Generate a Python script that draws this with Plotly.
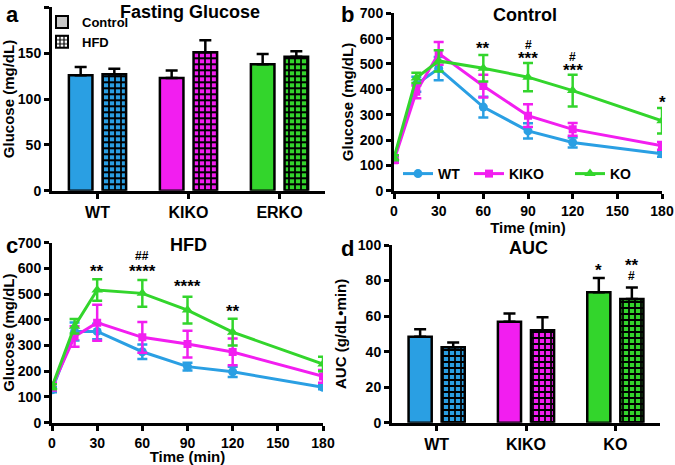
import plotly.graph_objects as go

# ---------------- data ----------------
groups_a = ["WT", "KIKO", "ERKO"]
fasting_control = [126, 123, 138]
fasting_control_err = [9, 8, 11]
fasting_hfd = [127, 151, 146]
fasting_hfd_err = [6, 13, 6]

time_min = [0, 15, 30, 60, 90, 120, 180]
ctrl_wt = [125, 420, 482, 330, 236, 190, 146]
ctrl_wt_err = [12, 30, 46, 41, 30, 20, 12]
ctrl_kiko = [120, 390, 542, 413, 296, 242, 177]
ctrl_kiko_err = [10, 25, 45, 45, 45, 25, 15]
ctrl_ko = [130, 445, 512, 483, 448, 395, 276]
ctrl_ko_err = [10, 20, 42, 52, 56, 63, 50]

hfd_wt = [128, 355, 355, 276, 218, 198, 138]
hfd_wt_err = [10, 35, 30, 28, 15, 20, 8]
hfd_kiko = [140, 335, 389, 332, 306, 275, 180]
hfd_kiko_err = [15, 40, 70, 60, 52, 52, 25]
hfd_ko = [140, 375, 516, 503, 438, 352, 228]
hfd_ko_err = [10, 28, 42, 52, 52, 52, 28]

groups_d = ["WT", "KIKO", "KO"]
auc_control = [48.4, 56.8, 73.4]
auc_control_err = [4.2, 4.7, 8.0]
auc_hfd = [42.4, 52.0, 69.6]
auc_hfd_err = [2.8, 7.3, 6.5]

sig_b = [(60, "**", 562), (90, "#", 575), (90, "***", 521),
         (120, "#", 529), (120, "***", 475), (180, "*", 347)]
sig_c = [(30, "**", 589), (60, "##", 650), (60, "****", 587),
         (90, "****", 528), (120, "**", 433)]
sig_d = [(2, -1, "*", 85.5), (2, 1, "**", 88.5), (2, 1, "#", 82.6)]

# ---------------- style ----------------
BLUE = "#2a9fe3"
MAG = "#f21ef0"
GREEN = "#33d52c"
colors3 = [BLUE, MAG, GREEN]
FONT = "Liberation Sans, Arial, sans-serif"
W, H = 675, 465


def px(x):
    return x / W


def py(y):
    return 1 - y / H


fig = go.Figure()

bar_line = dict(color="black", width=2.5)


def bar_err(err):
    return dict(type="data", array=err, arrayminus=[0] * len(err), symmetric=False,
                color="black", thickness=2.5, width=6)


def hfd_pattern(col):
    return dict(shape="+", fgcolor="black", bgcolor=col, size=6, solidity=0.5,
                fillmode="replace", fgopacity=1)


def add_bar_panel(groups, ctrl, ctrl_err, hfd, hfd_err, xa, ya):
    for i, g in enumerate(groups):
        col = colors3[i]
        fig.add_trace(go.Bar(x=[g], y=[ctrl[i]], offsetgroup="c", name=g + " Control",
                             marker=dict(color=col, line=bar_line),
                             error_y=bar_err([ctrl_err[i]]), xaxis=xa, yaxis=ya,
                             showlegend=False))
        fig.add_trace(go.Bar(x=[g], y=[hfd[i]], offsetgroup="h", name=g + " HFD",
                             marker=dict(color=col, line=bar_line, pattern=hfd_pattern(col)),
                             error_y=bar_err([hfd_err[i]]), xaxis=xa, yaxis=ya,
                             showlegend=False))


# panel a
add_bar_panel(groups_a, fasting_control, fasting_control_err, fasting_hfd,
              fasting_hfd_err, "x", "y")
fig.add_trace(go.Bar(x=[None], y=[None], offsetgroup="c", name="Control",
                     marker=dict(color="#c8c8c8", line=dict(color="black", width=2)),
                     xaxis="x", yaxis="y", legend="legend"))
fig.add_trace(go.Bar(x=[None], y=[None], offsetgroup="h", name="HFD",
                     marker=dict(color="white", line=dict(color="black", width=2),
                                 pattern=dict(shape="+", fgcolor="black", bgcolor="white",
                                              size=5, solidity=0.5, fillmode="replace",
                                              fgopacity=1)),
                     xaxis="x", yaxis="y", legend="legend"))

# panel b and c lines
series_defs = [
    ("WT", BLUE, "circle", 9, 26),
    ("KIKO", MAG, "square", 8, 56),
    ("KO", GREEN, "triangle-up", 10, 30),
]
ctrl_data = [(ctrl_wt, ctrl_wt_err), (ctrl_kiko, ctrl_kiko_err), (ctrl_ko, ctrl_ko_err)]
hfd_data = [(hfd_wt, hfd_wt_err), (hfd_kiko, hfd_kiko_err), (hfd_ko, hfd_ko_err)]

for (name, col, sym, ms, lw), (vals, errs) in zip(series_defs, ctrl_data):
    fig.add_trace(go.Scatter(x=time_min, y=vals, mode="lines+markers", name=name,
                             line=dict(color=col, width=3),
                             marker=dict(color=col, symbol=sym, size=ms),
                             error_y=dict(type="data", array=errs, color=col,
                                          thickness=2.5, width=5),
                             xaxis="x2", yaxis="y2", legend="legend2", legendwidth=lw))
for (name, col, sym, ms, lw), (vals, errs) in zip(series_defs, hfd_data):
    fig.add_trace(go.Scatter(x=time_min, y=vals, mode="lines+markers", name=name,
                             line=dict(color=col, width=3),
                             marker=dict(color=col, symbol=sym, size=ms),
                             error_y=dict(type="data", array=errs, color=col,
                                          thickness=2.5, width=5),
                             xaxis="x3", yaxis="y3", showlegend=False))

# panel d
add_bar_panel(groups_d, auc_control, auc_control_err, auc_hfd, auc_hfd_err, "x4", "y4")

tickfont = dict(family=FONT, size=14, color="black", weight="bold")
catfont = dict(family=FONT, size=16, color="black", weight="bold")
titlefont = dict(family=FONT, size=15, color="black", weight="bold")

axis_common = dict(showline=True, linewidth=3, linecolor="black", ticks="outside",
                   ticklen=5, tickwidth=2.5, tickcolor="black", showgrid=False,
                   zeroline=False, automargin=False)

fig.update_layout(
    width=W, height=H, margin=dict(l=0, r=0, t=0, b=0),
    paper_bgcolor="white", plot_bgcolor="white",
    barmode="group", bargap=0.26, bargroupgap=0.3,
    font=dict(family=FONT, color="black"),
    xaxis=dict(axis_common, domain=[px(52), px(325)], anchor="y", tickfont=catfont,
               type="category", categoryorder="array", categoryarray=groups_a,
               range=[-0.5, 2.5]),
    yaxis=dict(axis_common, domain=[py(190.7), py(7.3)], anchor="x", range=[0, 200],
               tickvals=[0, 50, 100, 150, 200], tickfont=tickfont,
               title=dict(text="Glucose (mg/dL)", font=titlefont, standoff=6)),
    xaxis2=dict(axis_common, domain=[px(394), px(662)], anchor="y2", range=[0, 180],
                tickvals=[0, 30, 60, 90, 120, 150, 180], tickfont=tickfont,
                title=dict(text="Time (min)", font=titlefont, standoff=2)),
    yaxis2=dict(axis_common, domain=[py(190.7), py(13.3)], anchor="x2", range=[0, 700],
                tickvals=[0, 100, 200, 300, 400, 500, 600, 700], tickfont=tickfont,
                title=dict(text="Glucose (mg/dL)", font=titlefont, standoff=3)),
    xaxis3=dict(axis_common, domain=[px(52), px(323)], anchor="y3", range=[0, 180],
                tickvals=[0, 30, 60, 90, 120, 150, 180], tickfont=tickfont,
                title=dict(text="Time (min)", font=titlefont, standoff=2)),
    yaxis3=dict(axis_common, domain=[py(422.7), py(242.7)], anchor="x3", range=[0, 700],
                tickvals=[0, 100, 200, 300, 400, 500, 600, 700], tickfont=tickfont,
                title=dict(text="Glucose (mg/dL)", font=titlefont, standoff=6)),
    xaxis4=dict(axis_common, domain=[px(392), px(660)], anchor="y4", tickfont=catfont,
                type="category", categoryorder="array", categoryarray=groups_d,
                range=[-0.5, 2.5]),
    yaxis4=dict(axis_common, domain=[py(422.7), py(245)], anchor="x4", range=[0, 100],
                tickvals=[0, 20, 40, 60, 80, 100], tickfont=tickfont,
                title=dict(text="AUC (g/dL•min)", font=titlefont, standoff=8)),
    legend=dict(x=px(42), y=py(7), xanchor="left", yanchor="top",
                font=dict(family=FONT, size=13, color="black", weight="bold"),
                bgcolor="rgba(0,0,0,0)", tracegroupgap=0, itemwidth=30),
    legend2=dict(x=px(398), y=py(174), xanchor="left", yanchor="middle",
                 orientation="h",
                 font=dict(family=FONT, size=14, color="black", weight="bold"),
                 bgcolor="rgba(0,0,0,0)", itemwidth=30),
)

ann = []
# panel letters and titles
for txt, x, y in [("a", 4, 14), ("b", 339, 15), ("c", 4, 245), ("d", 339, 248)]:
    ann.append(dict(text=txt, x=px(x), y=py(y), xref="paper", yref="paper",
                    showarrow=False, xanchor="left", yanchor="middle",
                    font=dict(family=FONT, size=22, color="black", weight="bold")))
for txt, x, y in [("Fasting Glucose", 190, 12), ("Control", 525, 15),
                  ("HFD", 188, 245), ("AUC", 528, 248)]:
    ann.append(dict(text=txt, x=px(x), y=py(y), xref="paper", yref="paper",
                    showarrow=False, xanchor="center", yanchor="middle",
                    font=dict(family=FONT, size=18, color="black", weight="bold")))

def sig_font(t):
    return dict(family=FONT, size=12 if "#" in t else 17, color="black", weight="bold")

for x, t, y in sig_b:
    ann.append(dict(text=t, x=x, y=y, xref="x2", yref="y2", showarrow=False,
                    yanchor="middle", font=sig_font(t)))
for x, t, y in sig_c:
    ann.append(dict(text=t, x=x, y=y, xref="x3", yref="y3", showarrow=False,
                    yanchor="middle", font=sig_font(t)))
for gi, side, t, y in sig_d:
    ann.append(dict(text=t, x=gi + side * 0.186, y=y, xref="x4", yref="y4",
                    showarrow=False, yanchor="middle", font=sig_font(t)))

fig.update_layout(annotations=ann)
fig.write_html("out.html", config={"displayModeBar": False},
               post_script="document.body.style.margin='0px';document.body.style.padding='0px';")
